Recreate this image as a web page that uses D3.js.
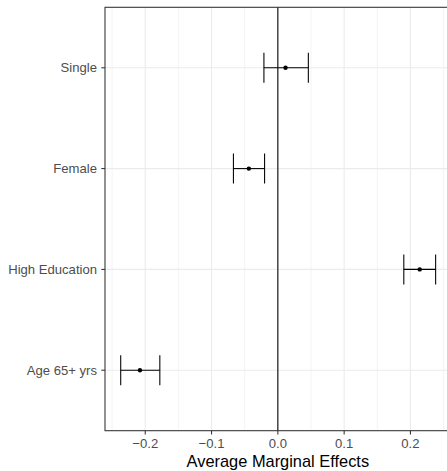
<!DOCTYPE html>
<html><head><meta charset="utf-8">
<script src="https://cdn.jsdelivr.net/npm/d3@7"></script>
<style>body{margin:0;background:#fff}svg{display:block}</style>
</head><body>
<svg id="c" width="447" height="471"></svg>
<script>
const categories = ["Single", "Female", "High Education", "Age 65+ yrs"];
const estimates = [0.0116, -0.0437, 0.214, -0.208];
const lower = [-0.021, -0.067, 0.190, -0.237];
const upper = [0.046, -0.020, 0.238, -0.178];
const xTicks = [-0.2, -0.1, 0.0, 0.1, 0.2];
const xMinor = [-0.25, -0.15, -0.05, 0.05, 0.15, 0.25];
const xTitle = "Average Marginal Effects";

const svg = d3.select("#c");
const L = 105, T = 7.3, B = 430.7;
const x = d3.scaleLinear().domain([-0.2607, 0.2618]).range([L, L + 0.5225 * 663]);
const yIdx = d3.scaleLinear().domain([0.4, 4.6]).range([T, B]);
const y = c => yIdx(categories.indexOf(c) + 1);
const R = x.range()[1];
const FONT = "Liberation Sans, Arial, Helvetica, sans-serif";

const g = svg.append("g");
g.selectAll(".mn").data(xMinor).join("line")
  .attr("x1", d => x(d)).attr("x2", d => x(d)).attr("y1", T).attr("y2", B)
  .attr("stroke", "#EBEBEB").attr("stroke-width", 0.53);
g.selectAll(".mj").data(xTicks).join("line")
  .attr("x1", d => x(d)).attr("x2", d => x(d)).attr("y1", T).attr("y2", B)
  .attr("stroke", "#EBEBEB").attr("stroke-width", 1.07);
g.selectAll(".hy").data(categories).join("line")
  .attr("x1", L).attr("x2", R).attr("y1", d => y(d)).attr("y2", d => y(d))
  .attr("stroke", "#EBEBEB").attr("stroke-width", 1.07);

g.append("line").attr("x1", x(0)).attr("x2", x(0)).attr("y1", T).attr("y2", B)
  .attr("stroke", "#000").attr("stroke-width", 1.07);

const data = categories.map((c, i) => ({c, e: estimates[i], lo: lower[i], hi: upper[i]}));
const capH = 15;
const eb = g.selectAll(".eb").data(data).join("g");
eb.append("line").attr("x1", d => x(d.lo)).attr("x2", d => x(d.hi))
  .attr("y1", d => y(d.c)).attr("y2", d => y(d.c)).attr("stroke", "#000").attr("stroke-width", 1.07);
eb.append("line").attr("x1", d => x(d.lo)).attr("x2", d => x(d.lo))
  .attr("y1", d => y(d.c) - capH).attr("y2", d => y(d.c) + capH).attr("stroke", "#000").attr("stroke-width", 1.07);
eb.append("line").attr("x1", d => x(d.hi)).attr("x2", d => x(d.hi))
  .attr("y1", d => y(d.c) - capH).attr("y2", d => y(d.c) + capH).attr("stroke", "#000").attr("stroke-width", 1.07);
eb.append("circle").attr("cx", d => x(d.e)).attr("cy", d => y(d.c)).attr("r", 2.2).attr("fill", "#000");

g.append("rect").attr("x", L).attr("y", T).attr("width", R - L).attr("height", B - T)
  .attr("fill", "none").attr("stroke", "#333333").attr("stroke-width", 1.07);

const fmt = d => d3.format(".1f")(d).replace("-", "\u2212");
g.selectAll(".xt").data(xTicks).join("line")
  .attr("x1", d => x(d)).attr("x2", d => x(d)).attr("y1", B).attr("y2", B + 3.7)
  .attr("stroke", "#333333").attr("stroke-width", 1.07);
g.selectAll(".xl").data(xTicks).join("text")
  .attr("x", d => x(d)).attr("y", B + 17.5).attr("text-anchor", "middle")
  .attr("font-family", FONT).attr("font-size", 13.1)
  .attr("fill", "#4D4D4D").text(fmt);
g.selectAll(".yt").data(categories).join("line")
  .attr("x1", L - 3.7).attr("x2", L).attr("y1", d => y(d)).attr("y2", d => y(d))
  .attr("stroke", "#333333").attr("stroke-width", 1.07);
g.selectAll(".yl").data(categories).join("text")
  .attr("x", L - 8).attr("y", d => y(d) + 4.6).attr("text-anchor", "end")
  .attr("font-family", FONT).attr("font-size", 13.1)
  .attr("fill", "#4D4D4D").text(d => d);
svg.append("text").attr("x", (186.7 + 369)/2).attr("y", 467.3).attr("text-anchor", "middle")
  .attr("font-family", FONT).attr("font-size", 16.4)
  .attr("fill", "#000").text(xTitle);
</script>
</body></html>
